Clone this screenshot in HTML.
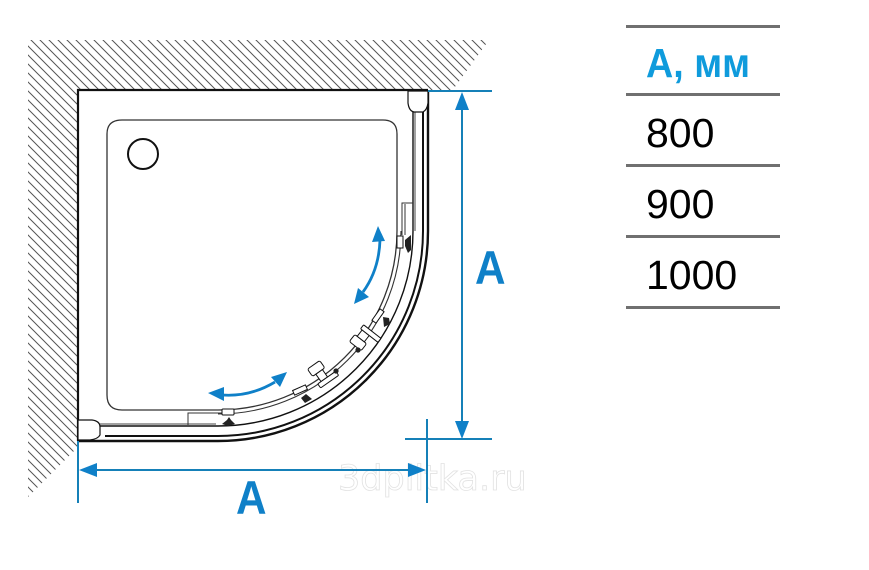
<!DOCTYPE html>
<html><head><meta charset="utf-8"><style>
html,body{margin:0;padding:0;background:#fff}
svg{display:block}
text{font-family:"Liberation Sans",sans-serif}
</style></head><body>
<svg width="869" height="570" viewBox="0 0 869 570" xmlns="http://www.w3.org/2000/svg">
<defs>
<pattern id="h" width="9" height="9" patternUnits="userSpaceOnUse">
<path d="M-1 -1L10 10M-1 8L1 10M8 -1L10 1" stroke="#555" stroke-width="1"/>
</pattern>
</defs>
<polygon points="28,40 489,40 452,91 78,91 78,447 28,497" fill="url(#h)"/>
<rect x="78" y="90" width="350" height="351" fill="#fff"/>
<!-- watermark -->
<text x="338" y="490" font-size="35" style="font-family:'DejaVu Sans',sans-serif" fill="#fff" stroke="#e2e2e2" stroke-width=".8">3dplitka.ru</text>
<g fill="none" stroke="#111">
<path d="M78 441V90H428" stroke-width="2.2"/>
<path d="M78 441H218A210 210 0 0 0 428 231V90" stroke-width="2.4"/>
<path d="M105 436H218A205 205 0 0 0 423 231V112" stroke-width="2"/>
<path d="M100 426H218A195 195 0 0 0 413 231V112" stroke-width="1.4"/>
<path d="M100 424H216M415 112V231" stroke-width="1" stroke="#444"/>
<path d="M222 410H122Q107 410 107 395V134Q107 120 122 120H383Q397 120 397 134V231A179 179 0 0 1 218 410" stroke-width="1.3" stroke="#333"/>
<path d="M218 414A183 183 0 0 0 401 231" stroke-width="1.1" stroke="#333"/>
<circle cx="143" cy="154" r="15" fill="#fff" stroke-width="2"/>
<path d="M188 425V413H222M402 235V203H413M405 235V204" stroke-width="1" stroke="#333"/>
<path d="M78 420H92Q100 421 100 427V435Q98 439 90 440H78Z" fill="#fff" stroke-width="1.2"/>
<path d="M408 91V103Q409 111 414 112H423Q427 110 428 103V91Z" fill="#fff" stroke-width="1.2"/>
<!-- handles -->
<g stroke-width="1" fill="#fff">
<g transform="translate(363 337) rotate(-52)"><rect x="-12" y="-8" width="9" height="15" rx="2"/><rect x="-3" y="-5" width="8" height="9"/><rect x="5" y="-7" width="5" height="22" rx="1"/></g>
<g transform="translate(322 376) rotate(-35)"><rect x="-8" y="-14" width="15" height="9" rx="2"/><rect x="-4" y="-5" width="8" height="9"/><rect x="-8" y="4" width="22" height="5" rx="1"/></g>
<g transform="translate(378 316) rotate(-55)"><rect x="-7" y="-2.500" width="14" height="5"/></g>
<g transform="translate(300 390) rotate(-24)"><rect x="-7" y="-2.500" width="14" height="5"/></g>
<rect x="222" y="409" width="12" height="6" rx="1"/>
<rect x="397" y="236" width="6" height="12"/>
</g>
<g fill="#222" stroke="none">
<circle cx="358" cy="350" r="2.600"/><circle cx="336" cy="371" r="2.600"/>
<path d="M222 424L227 420L229 417L231 420L235 424L228 426Z"/>
<path d="M405 240L411 235L411 250L408 253L405 246Z"/>
<path d="M383 317L389 318L390 324L384 327Z"/>
<path d="M301 398L306 394L312 399L305 403Z"/>
</g>
</g>
<!-- dimensions -->
<g stroke="#1580b8" stroke-width="2" fill="none">
<path d="M428 91H492M405 439H492M462 100V430M427 419V503M78 441V503M90 470H415"/>
</g>
<g fill="#0f80c8">
<path d="M462 92L469 110H455Z"/>
<path d="M462 439L469 421H455Z"/>
<path d="M79 470L97 463V477Z"/>
<path d="M426 470L408 463V477Z"/>
<path d="M378 226L385 241L372 242Z"/>
<path d="M354 304L358 288L369 297Z"/>
<path d="M208 393L224 387L224 401Z"/>
<path d="M287 372L271 377L280 387Z"/>
</g>
<path d="M380 240Q379 270 363 292M222 395Q250 397 275 382" fill="none" stroke="#0f80c8" stroke-width="2.800"/>
<text transform="translate(475 284) scale(.9 1)" font-size="47" font-weight="bold" fill="#0f80c8">A</text>
<text transform="translate(236 514) scale(.9 1)" font-size="47" font-weight="bold" fill="#0f80c8">A</text>
<!-- table -->
<g stroke="#707070" stroke-width="3">
<path d="M626 26.500H780M626 94.500H780M626 165.500H780M626 236.500H780M626 307.500H780"/>
</g>
<text x="646" y="77" font-size="41" font-weight="bold" fill="#0f9bdc" textLength="104" lengthAdjust="spacingAndGlyphs">A, мм</text>
<text x="646" y="147" font-size="41" fill="#000">800</text>
<text x="646" y="218" font-size="41" fill="#000">900</text>
<text x="646" y="289" font-size="41" fill="#000">1000</text>
</svg>
</body></html>
